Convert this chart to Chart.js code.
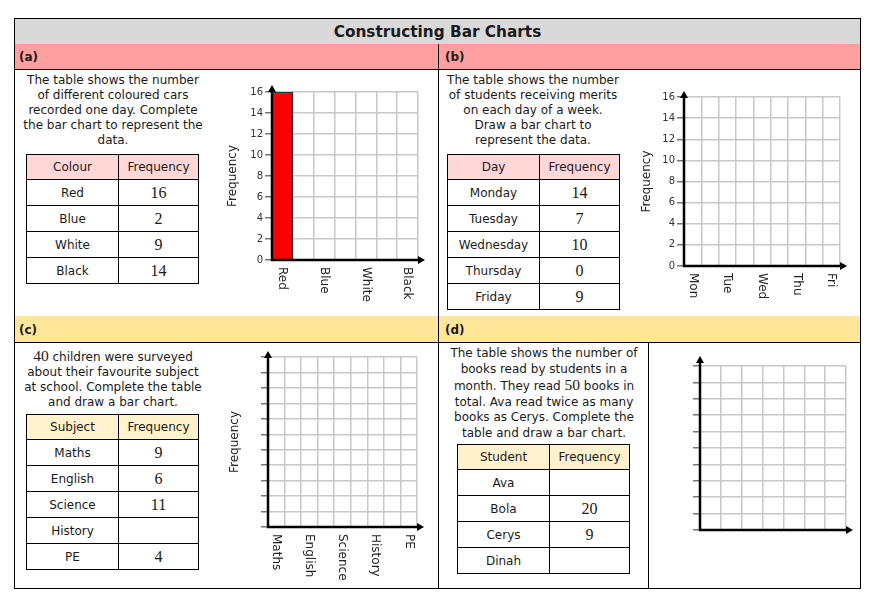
<!DOCTYPE html>
<html>
<head>
<meta charset="utf-8">
<script src="https://cdn.jsdelivr.net/npm/chart.js@4.4.0/dist/chart.umd.min.js"></script>
<style>
  body { margin: 0; background: #fff; width: 877px; height: 604px; position: relative; font-family: "DejaVu Sans", Verdana, sans-serif; color: #1a1a1a; }
  .abs { position: absolute; }
  .line { position: absolute; background: #000; }
  .hdr { position: absolute; font-weight: bold; font-size: 12px; }
  .txt { position: absolute; font-size: 12px; line-height: 15px; text-align: center; }
  .num { font-family: "Liberation Serif", "DejaVu Serif", serif; font-size: 16px; }
  table { position: absolute; border-collapse: collapse; table-layout: fixed; font-size: 12px; }
  td { border: 1.5px solid #000; text-align: center; padding: 0; }
  canvas { position: absolute; }
</style>
</head>
<body>
<div class="abs" style="left:14px;top:18px;width:847px;height:26px;background:#d9d9d9;"></div>
<div class="abs" style="left:14px;top:19px;width:847px;height:26px;line-height:27px;text-align:center;font-weight:bold;font-size:15.3px;">Constructing Bar Charts</div>
<div class="abs" style="left:14px;top:44px;width:847px;height:25px;background:#ff9f9f;"></div>
<div class="abs" style="left:14px;top:316px;width:847px;height:26px;background:#ffe699;"></div>
<div class="line" style="left:14px;top:69px;width:847px;height:1px;"></div>
<div class="line" style="left:14px;top:342px;width:847px;height:1px;"></div>
<div class="line" style="left:438px;top:44px;width:1px;height:545px;"></div>
<div class="line" style="left:648px;top:342px;width:1px;height:247px;"></div>
<div class="abs" style="left:14px;top:18px;width:847px;height:571px;border:1px solid #000;box-sizing:border-box;"></div>
<div class="hdr" style="left:19px;top:50px;">(a)</div>
<div class="hdr" style="left:445px;top:50px;">(b)</div>
<div class="hdr" style="left:19px;top:323px;">(c)</div>
<div class="hdr" style="left:445px;top:323px;">(d)</div>

<div class="txt" style="left:16px;top:73px;width:194px;">The table shows the number<br>of different coloured cars<br>recorded one day. Complete<br>the bar chart to represent the<br>data.</div>
<div class="txt" style="left:436px;top:73px;width:194px;">The table shows the number<br>of students receiving merits<br>on each day of a week.<br>Draw a bar chart to<br>represent the data.</div>
<div class="txt" style="left:16px;top:348px;width:194px;"><span class="num" style="font-size:15.5px">40</span> children were surveyed<br>about their favourite subject<br>at school. Complete the table<br>and draw a bar chart.</div>
<div class="txt" style="left:444px;top:346px;width:200px;line-height:15.5px;">The table shows the number of<br>books read by students in a<br>month. They read <span class="num" style="font-size:15.5px">50</span> books in<br>total. Ava read twice as many<br>books as Cerys. Complete the<br>table and draw a bar chart.</div>

<table id="tA" style="left:26px;top:154px;width:173px;"></table>
<table id="tB" style="left:447px;top:154px;width:173px;"></table>
<table id="tC" style="left:26px;top:414px;width:173px;"></table>
<table id="tD" style="left:457px;top:444px;width:173px;"></table>

<canvas id="chartA" width="225" height="240" style="left:210px;top:78px;"></canvas>
<canvas id="chartB" width="225" height="230" style="left:630px;top:82px;"></canvas>
<canvas id="chartC" width="220" height="242" style="left:215px;top:345px;"></canvas>
<canvas id="chartD" width="200" height="200" style="left:660px;top:345px;"></canvas>

<script>
// (a) cars
const coloursA = ['Red', 'Blue', 'White', 'Black'];
const freqA = [16, 2, 9, 14];
const drawnA = [16, null, null, null]; // only Red is drawn so far
// (b) merits
const daysB = ['Monday', 'Tuesday', 'Wednesday', 'Thursday', 'Friday'];
const axisB = ['Mon', 'Tue', 'Wed', 'Thu', 'Fri'];
const freqB = [14, 7, 10, 0, 9];
// (c) favourite subject
const subjectsC = ['Maths', 'English', 'Science', 'History', 'PE'];
const freqC = [9, 6, 11, null, 4];
// (d) books
const studentsD = ['Ava', 'Bola', 'Cerys', 'Dinah'];
const freqD = [null, 20, 9, null];

const yTicksAB = { max: 16, step: 2 };
const yTicksC = { max: 11, step: 1 };
const yTicksD = { max: 10, step: 1 };

const font = '"DejaVu Sans", Verdana, sans-serif';

// put an empty column between categories
function spaced(arr, gap) {
  const out = [];
  arr.forEach((v, i) => { if (i) out.push(gap); out.push(v); });
  return out;
}

function fillTable(id, head, names, vals, bg) {
  const t = document.getElementById(id);
  let html = `<tr style="height:25px;background:${bg}"><td style="width:91px">${head}</td><td>Frequency</td></tr>`;
  names.forEach((n, i) => {
    const v = vals[i] == null ? '' : vals[i];
    html += `<tr style="height:26px"><td>${n}</td><td class="num">${v}</td></tr>`;
  });
  t.innerHTML = html;
}

fillTable('tA', 'Colour', coloursA, freqA, '#ffd7d7');
fillTable('tB', 'Day', daysB, freqB, '#ffd7d7');
fillTable('tC', 'Subject', subjectsC, freqC, '#fff2cc');
fillTable('tD', 'Student', studentsD, freqD, '#fff2cc');

const axisArrows = {
  id: 'axisArrows',
  afterDraw(chart, args, opts) {
    const { ctx, chartArea: a, scales: { x, y } } = chart;
    const x0 = a.left, y0 = y.getPixelForValue(0);
    const up = opts.up, rt = opts.right;
    ctx.save();
    ctx.strokeStyle = '#000';
    ctx.fillStyle = '#000';
    ctx.lineWidth = 2.5;
    ctx.beginPath();
    ctx.moveTo(x0, y0 + 1.2); ctx.lineTo(x0, a.top - up + 4);
    ctx.moveTo(x0 - 1.2, y0); ctx.lineTo(a.right + rt - 4, y0);
    ctx.stroke();
    ctx.beginPath();
    ctx.moveTo(x0, a.top - up); ctx.lineTo(x0 - 4, a.top - up + 7); ctx.lineTo(x0 + 4, a.top - up + 7); ctx.closePath();
    ctx.moveTo(a.right + rt, y0); ctx.lineTo(a.right + rt - 7, y0 - 4); ctx.lineTo(a.right + rt - 7, y0 + 4); ctx.closePath();
    ctx.fill();
    if (opts.labels) {
      ctx.font = '12px ' + font;
      ctx.fillStyle = '#222';
      ctx.textAlign = 'left';
      ctx.textBaseline = 'middle';
      x.getLabels().forEach((l, i) => {
        if (!l) return;
        ctx.save();
        ctx.translate(x.getPixelForValue(i), y0 + 7);
        ctx.rotate(Math.PI / 2);
        ctx.fillText(l, 0, 0);
        ctx.restore();
      });
    }
    ctx.restore();
  }
};

function makeChart(id, cfg) {
  new Chart(document.getElementById(id), {
    type: 'bar',
    data: {
      labels: cfg.labels,
      datasets: [{
        data: cfg.data,
        backgroundColor: '#ff0000',
        borderColor: '#1e3a46',
        borderWidth: 1.5,
        barPercentage: 1,
        categoryPercentage: 1
      }]
    },
    options: {
      responsive: false,
      animation: false,
      layout: { padding: { top: cfg.pad[0], right: cfg.pad[1], bottom: 0, left: 0 } },
      plugins: {
        legend: { display: false },
        tooltip: { enabled: false },
        axisArrows: { up: cfg.up, right: 7, labels: cfg.showLabels }
      },
      scales: {
        x: {
          offset: true,
          grid: { color: '#c8c8c8', lineWidth: 1.5, offset: true, drawTicks: false },
          border: { display: false },
          ticks: { display: false },
          afterFit(s) { s.height = cfg.xHeight; }
        },
        y: {
          min: 0,
          max: cfg.yt.max,
          ticks: {
            stepSize: cfg.yt.step,
            font: { size: 10, family: font },
            color: '#333',
            padding: 2,
            callback: (v) => cfg.numbers ? v : ''
          },
          grid: { color: '#c8c8c8', lineWidth: 1.5, tickLength: 7, tickColor: '#777' },
          border: { display: false },
          title: {
            display: cfg.title,
            text: 'Frequency',
            font: { size: 12, family: font },
            color: '#222',
            padding: { top: cfg.titlePad, bottom: 0 }
          },
          afterFit(s) { s.width = cfg.yWidth; }
        }
      }
    },
    plugins: [axisArrows]
  });
}

makeChart('chartA', {
  labels: spaced(coloursA, ''), data: spaced(drawnA, null), yt: yTicksAB,
  pad: [14, 17], yWidth: 62, xHeight: 58, titlePad: 16, title: true, numbers: true, showLabels: true, up: 7
});
makeChart('chartB', {
  labels: spaced(axisB, ''), data: spaced(axisB.map(() => null), null), yt: yTicksAB,
  pad: [15, 15], yWidth: 54, xHeight: 46, titlePad: 10, title: true, numbers: true, showLabels: true, up: 6
});
makeChart('chartC', {
  labels: spaced(subjectsC, ''), data: spaced(subjectsC.map(() => null), null), yt: yTicksC,
  pad: [12, 18], yWidth: 53, xHeight: 60, titlePad: 13, title: true, numbers: false, showLabels: true, up: 6
});
makeChart('chartD', {
  labels: spaced(studentsD, ''), data: spaced(studentsD.map(() => null), null), yt: yTicksD,
  pad: [21, 14], yWidth: 40, xHeight: 15, titlePad: 0, title: false, numbers: false, showLabels: false, up: 10
});
</script>
</body>
</html>
